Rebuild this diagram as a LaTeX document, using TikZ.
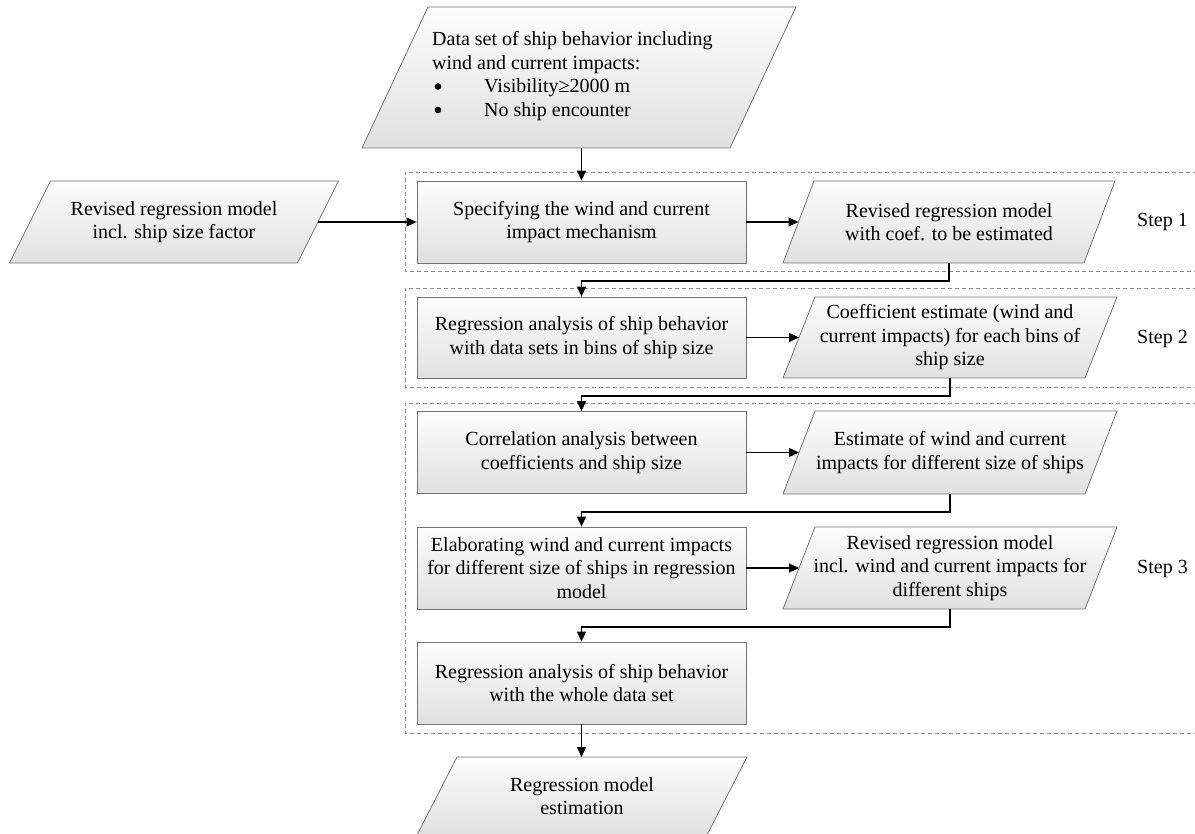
\documentclass[tikz,border=0pt]{standalone}
\usepackage{fontspec}
\setmainfont{Liberation Serif}
\usetikzlibrary{arrows.meta}
\newcommand\diagfont{\fontsize{20}{23.5}\selectfont}
% #1 name, #2 cx, #3 cy, #4 half width, #5 half height, #6 half slant, #7 text
\newcommand\parabox[7]{%
  \shade[parafill] (#2-#4+#6,#3-#5) -- (#2+#4+#6,#3-#5) -- (#2+#4-#6,#3+#5) -- (#2-#4-#6,#3+#5) -- cycle;
  \coordinate (#1-w) at (#2-#4,#3);
  \coordinate (#1-e) at (#2+#4,#3);
  \coordinate (#1-n) at (#2,#3-#5);
  \coordinate (#1-s) at (#2,#3+#5);
  \node[paratext] (#1) at (#2,#3) {#7};
}
\begin{document}
\begin{tikzpicture}[x=1pt,y=-1pt,
  procbox/.style={draw=black!55, line width=0.8pt, top color=black!1, bottom color=black!12,
    minimum width=329pt, minimum height=82pt, inner sep=0pt, align=center, font=\diagfont},
  parafill/.style={draw=black!55, line width=0.8pt, top color=black!1, bottom color=black!12},
  paratext/.style={inner sep=0pt, align=center, font=\diagfont},
  arr/.style={line width=1.2pt, draw=black, -{Triangle[length=10pt,width=9pt]}},
  stepframe/.style={draw=black!45, line width=0.8pt, dash pattern=on 4pt off 3pt},
  steplabel/.style={inner sep=0pt, anchor=west, font=\diagfont},
  bulletdot/.style={fill=black}
]
\useasboundingbox (0,0) rectangle (1195,834);

% step frames
\draw[stepframe] (1197,172) -- (405,172) -- (405,271) -- (1197,271);
\draw[stepframe] (1197,288) -- (405,288) -- (405,387) -- (1197,387);
\draw[stepframe] (1197,403) -- (405,403) -- (405,733) -- (1197,733);

% top input
\parabox{top}{579}{77.5}{184}{70.5}{33}{}
\node[inner sep=0pt, anchor=west, align=left, font=\diagfont] (toptext) at (432,76)
  {Data set of ship behavior including\\
   wind and current impacts:\\
   \hspace*{52pt}Visibility≥2000 m\\
   \hspace*{52pt}No ship encounter};
\fill[bulletdot] (438,86.5) circle (3.3);
\fill[bulletdot] (438,110) circle (3.3);

% left input
\parabox{lp}{174}{222}{144}{41}{20.5}{Revised regression model\\incl. ship size factor}

% process boxes
\node[procbox] (b1) at (581.5,222) {Specifying the wind and current\\impact mechanism};
\node[procbox, minimum height=81pt] (b2) at (581.5,337.5) {Regression analysis of ship behavior\\with data sets in bins of ship size};
\node[procbox] (b3) at (581.5,452.5) {Correlation analysis between\\coefficients and ship size};
\node[procbox] (b4) at (581.5,568) {Elaborating wind and current impacts\\for different size of ships in regression\\model};
\node[procbox] (b5) at (581.5,683) {Regression analysis of ship behavior\\with the whole data set};

% right outputs
\parabox{p1}{949}{222}{150.5}{41}{15.5}{Revised regression model\\with coef. to be estimated}
\parabox{p2}{950}{337.5}{151}{40.5}{16}{Coefficient estimate (wind and\\current impacts) for each bins of\\ship size}
\parabox{p3}{950}{452.5}{151}{41.5}{16}{Estimate of wind and current\\impacts for different size of ships}
\parabox{p4}{950}{568}{151}{41}{16}{Revised regression model\\incl. wind and current impacts for\\different ships}

% final output
\parabox{fin}{582}{796}{145}{39}{20}{Regression model\\estimation}

% step labels
\node[steplabel] (s1) at (1137,222) {Step 1};
\node[steplabel] (s2) at (1137,339) {Step 2};
\node[steplabel] (s3) at (1137,569) {Step 3};

% connectors
\draw[arr] (b1.north |- top-s) -- (b1.north);
\draw[arr] (lp-e) -- (b1.west);
\draw[arr] (b1.east) -- (p1-w);
\draw[arr] (b2.east) -- (p2-w);
\draw[arr] (b3.east) -- (p3-w);
\draw[arr] (b4.east) -- (p4-w);
\draw[arr] (p1-s) -- ++(0,18) -| (b2.north);
\draw[arr] (p2-s) -- ++(0,18) -| (b3.north);
\draw[arr] (p3-s) -- ++(0,18) -| (b4.north);
\draw[arr] (p4-s) -- ++(0,18) -| (b5.north);
\draw[arr] (b5.south) -- (b5.south |- fin-n);
\end{tikzpicture}
\end{document}
